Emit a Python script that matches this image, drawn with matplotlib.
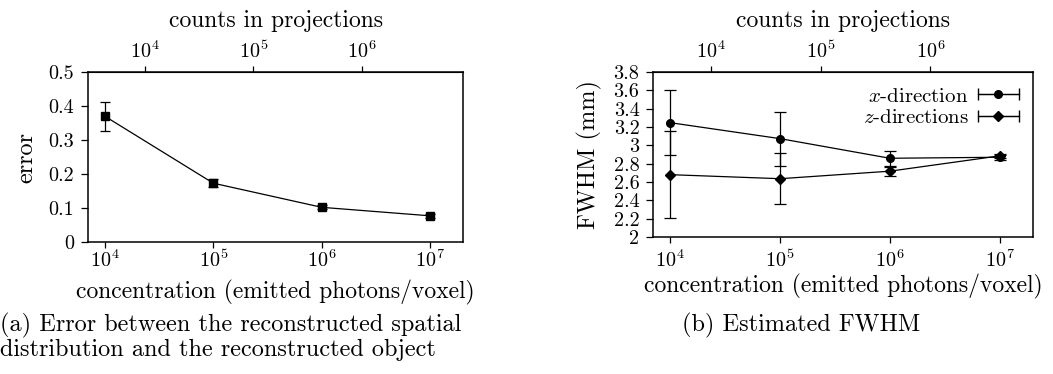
import numpy as np
import matplotlib
matplotlib.use("Agg")
from matplotlib import pyplot as plt
from matplotlib.ticker import FixedLocator, NullLocator, FuncFormatter, LogFormatterSciNotation
from matplotlib.container import ErrorbarContainer
from matplotlib.legend_handler import HandlerErrorbar

plt.rcParams['font.family'] = 'serif'
plt.rcParams['font.serif'] = ['cmr10', 'DejaVu Serif']
plt.rcParams['mathtext.fontset'] = 'cm'
plt.rcParams['axes.formatter.use_mathtext'] = True
plt.rcParams['axes.unicode_minus'] = False

# data
concentration = [1e4, 1e5, 1e6, 1e7]
err_mean = [0.370, 0.173, 0.102, 0.077]
err_std = [0.042, 0.012, 0.006, 0.005]

fwhm_x = [3.247, 3.073, 2.859, 2.870]
fwhm_x_std = [0.355, 0.294, 0.080, 0.025]
fwhm_z = [2.680, 2.636, 2.718, 2.885]
fwhm_z_std = [0.475, 0.280, 0.050, 0.020]

count_factor = 10 ** -0.37  # counts in projections per emitted photon/voxel

fig = plt.figure(figsize=(10.53, 3.74), dpi=100)
ax1 = fig.add_axes([0.0836, 0.3529, 0.3561, 0.4545])
ax2 = fig.add_axes([0.6204, 0.3663, 0.3603, 0.4412])

ax1.errorbar(concentration, err_mean, yerr=err_std, fmt='-s', color='black',
             lw=0.9, ms=6, elinewidth=0.9, capsize=3.6, capthick=0.9)

ax2.errorbar(concentration, fwhm_x, yerr=fwhm_x_std, fmt='-o', color='black',
             lw=0.9, ms=5.5, elinewidth=0.9, capsize=4.3, capthick=0.9)
ax2.errorbar(concentration, fwhm_z, yerr=fwhm_z_std, fmt='-D', color='black',
             lw=0.9, ms=5.5, elinewidth=0.9, capsize=4.3, capthick=0.9)

# legend proxies with horizontal error bars (gnuplot style)
px = ax2.errorbar([np.nan], [np.nan], xerr=[1], fmt='-o', color='black', lw=0.9,
                  ms=5.5, capsize=4.3, label='$x$-direction')
pz = ax2.errorbar([np.nan], [np.nan], xerr=[1], fmt='-D', color='black', lw=0.9,
                  ms=5.5, capsize=4.3, label='$z$-directions')
ax2.legend(handles=[px, pz], loc='upper right', frameon=False, markerfirst=False,
           fontsize=15, handlelength=1.95, handletextpad=0.45, borderaxespad=0.0,
           labelspacing=0.15, bbox_to_anchor=(0.985, 0.96),
           handler_map={ErrorbarContainer: HandlerErrorbar(xerr_size=0.98)})

for ax, bpad, lpad in ((ax1, 1, 7), (ax2, 5, 2)):
    ax.set_xscale('log')
    ax.set_xlim(7e3, 2e7)
    ax.xaxis.set_major_locator(FixedLocator(concentration))
    ax.xaxis.set_minor_locator(NullLocator())
    ax.tick_params(axis='both', direction='out', width=0.9,
                   labelsize=14.5, right=False, top=False)
    ax.tick_params(axis='x', pad=bpad, length=4)
    ax.tick_params(axis='y', pad=5, length=5)
    for s in ax.spines.values():
        s.set_linewidth(1.1)
    ax.set_xlabel('concentration (emitted photons/voxel)', fontsize=17, labelpad=lpad)
    sec = ax.secondary_xaxis('top', functions=(lambda v: v * count_factor,
                                               lambda v: v / count_factor))
    sec.set_xscale('log')
    sec.xaxis.set_major_locator(FixedLocator([1e4, 1e5, 1e6]))
    sec.xaxis.set_minor_locator(NullLocator())
    sec.xaxis.set_major_formatter(LogFormatterSciNotation())
    sec.tick_params(direction='out', length=4, width=0.9, labelsize=14.5, pad=3)
    sec.set_xlabel('counts in projections', fontsize=17, labelpad=10)

ax1.set_ylim(0, 0.5)
ax1.yaxis.set_major_locator(FixedLocator([0, 0.1, 0.2, 0.3, 0.4, 0.5]))
ax1.yaxis.set_major_formatter(FuncFormatter(lambda v, p: '%g' % v))
ax1.set_ylabel('error', fontsize=17.5, labelpad=8)

ax2.set_ylim(2, 3.8)
ax2.yaxis.set_major_locator(FixedLocator(np.round(np.arange(2, 3.81, 0.2), 1)))
ax2.yaxis.set_major_formatter(FuncFormatter(lambda v, p: '%g' % v))
ax2.set_ylabel('FWHM (mm)', fontsize=17.5, labelpad=8)

# captions (y measured in pixels from the top)
fig.text(0.0, 1 - 325 / 374, '(a) Error between the reconstructed spatial',
         fontsize=17.5, ha='left', va='center')
fig.text(0.0, 1 - 350 / 374, 'distribution and the reconstructed object',
         fontsize=17.5, ha='left', va='center')
fig.text(682 / 1053, 1 - 325 / 374, '(b) Estimated FWHM', fontsize=17.5,
         ha='left', va='center')

fig.savefig('out.png', dpi=100)
